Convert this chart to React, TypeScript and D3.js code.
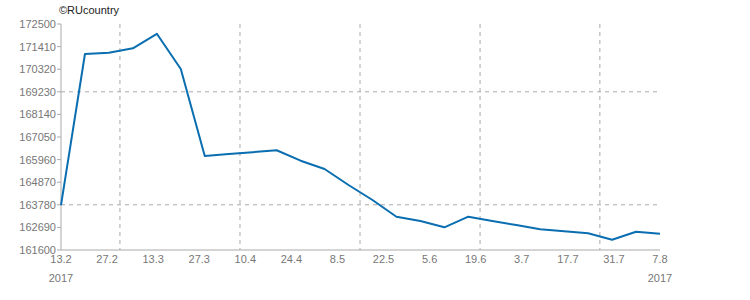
import React from "react";
import * as d3 from "d3";

const values = [
  163760, 171053, 171116, 171328, 172027, 170330, 166134, 166225, 166317, 166409,
  165907, 165507, 164735, 164012, 163206, 162999, 162695, 163206, 162999, 162801,
  162598, 162502, 162405, 162097, 162483, 162386,
];
const xTickLabels = ["13.2", "27.2", "13.3", "27.3", "10.4", "24.4", "8.5", "22.5", "5.6", "19.6", "3.7", "17.7", "31.7", "7.8"];
const yTicks = [161600, 162690, 163780, 164870, 165960, 167050, 168140, 169230, 170320, 171410, 172500];
const yGrid = [163780, 169230];
const xGrid = [2.46, 7.47, 12.48, 17.49, 22.49];
const yearLabel = "2017";
const credit = "©RUcountry";

const W = 750, H = 300;
const M = { left: 61, right: 90, top: 24, bottom: 50 };
const FONT = "'Liberation Sans', Arial, Helvetica, sans-serif";

export default function App() {
  const x = d3.scaleLinear().domain([0, values.length - 1]).range([M.left, W - M.right]);
  const xl = d3.scalePoint<string>().domain(xTickLabels).range([M.left, W - M.right]);
  const y = d3.scaleLinear().domain([161600, 172500]).range([H - M.bottom, M.top]);
  const line = d3.line<number>().x((_, i) => x(i)).y((d) => y(d));
  const y0 = H - M.bottom;

  return (
    <svg width={W} height={H} style={{ position: "absolute", left: 0, top: 0, fontFamily: FONT }}>
      <rect width={W} height={H} fill="#fff" />
      <text x={59} y={14} fontSize={11} fill="#222">{credit}</text>
      {yGrid.map((g) => (
        <line key={"yg" + g} x1={M.left} x2={W - M.right} y1={y(g)} y2={y(g)} stroke="#aaa" strokeDasharray="4,4" />
      ))}
      {xGrid.map((g) => (
        <line key={"xg" + g} x1={x(g)} x2={x(g)} y1={M.top} y2={y0} stroke="#aaa" strokeDasharray="4,4" />
      ))}
      <line x1={M.left} x2={M.left} y1={M.top} y2={y0} stroke="#aaa" />
      <line x1={M.left} x2={W - M.right} y1={y0} y2={y0} stroke="#aaa" />
      {yTicks.map((t) => (
        <g key={"yt" + t}>
          <line x1={M.left - 4} x2={M.left} y1={y(t)} y2={y(t)} stroke="#aaa" />
          <text x={M.left - 5} y={y(t) + 4} fontSize={11} fill="#777" textAnchor="end">{t}</text>
        </g>
      ))}
      {xTickLabels.map((t) => (
        <text key={"xt" + t} x={xl(t)} y={y0 + 13} fontSize={11} fill="#777" textAnchor="middle">{t}</text>
      ))}
      <text x={M.left} y={y0 + 32} fontSize={11} fill="#777" textAnchor="middle">{yearLabel}</text>
      <text x={W - M.right} y={y0 + 32} fontSize={11} fill="#777" textAnchor="middle">{yearLabel}</text>
      <path d={line(values) || ""} fill="none" stroke="#0a6eb0" strokeWidth={2} strokeLinejoin="round" />
    </svg>
  );
}
